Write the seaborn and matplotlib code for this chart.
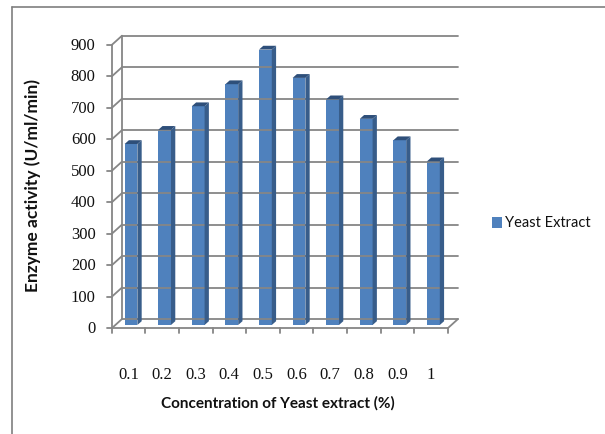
import numpy as np
import pandas as pd
import matplotlib
matplotlib.use("Agg")
import matplotlib.pyplot as plt
import seaborn as sns
from matplotlib.transforms import ScaledTranslation, IdentityTransform
from matplotlib.lines import Line2D
from matplotlib.patches import Polygon, Rectangle

# Data
concentrations = ["0.1", "0.2", "0.3", "0.4", "0.5", "0.6", "0.7", "0.8", "0.9", "1"]
activity = [575, 620, 695, 765, 875, 785, 717, 655, 587, 520]
y_ticks = [0, 100, 200, 300, 400, 500, 600, 700, 800, 900]
series_name = "Yeast Extract"
x_title = "Concentration of Yeast extract (%)"
y_title = "Enzyme activity (U/ml/min)"

df = pd.DataFrame({"conc": concentrations, "activity": activity})

sns.set_theme(style="white")
W, H, DPI = 605, 435, 100
fig = plt.figure(figsize=(W / DPI, H / DPI), dpi=DPI)
fig.patch.set_facecolor("white")

# front plane of the plot area, in pixels (from top-left)
x0_px, x1_px = 111.7, 447.7
y0_px, y900_px = 329.3, 46.0
ax = fig.add_axes([x0_px / W, 1 - y0_px / H, (x1_px - x0_px) / W, (y0_px - y900_px) / H])
ax.set_xlim(-0.5, 9.5)
ax.set_ylim(0, 900)
ax.axis("off")

grid_col = "#868686"
front_col = "#4F81BD"
side_col = "#385D8A"
top_col = "#2E4F7A"

back = (10.3, 9.3)    # back wall offset (px, up positive)
bar_off = (2.5, 3.3)  # bar front face offset
depth = (4.3, 3.8)    # bar depth

def disp(x, y, off=(0, 0)):
    px, py = ax.transData.transform((x, y))
    return px + off[0], py + off[1]

def seg(p, q, **kw):
    fig.add_artist(Line2D([p[0], q[0]], [p[1], q[1]], transform=IdentityTransform(), **kw))

lw = 1.3
# back wall gridlines and left wall diagonals
for v in y_ticks:
    seg(disp(-0.5, v, back), disp(9.5, v, back), color=grid_col, lw=lw, zorder=1)
    seg(disp(-0.5, v), disp(-0.5, v, back), color=grid_col, lw=lw, zorder=1)
    # tick marks on front value axis
    a = disp(-0.5, v)
    seg((a[0] - 5, a[1]), a, color=grid_col, lw=lw, zorder=1)
# back wall left edge
seg(disp(-0.5, 0, back), disp(-0.5, 900, back), color=grid_col, lw=lw, zorder=1)
# front value axis
seg(disp(-0.5, 0), disp(-0.5, 900), color=grid_col, lw=lw, zorder=1)
# floor front edge and right edge
seg(disp(-0.5, 0), disp(9.5, 0), color=grid_col, lw=lw, zorder=1)
seg(disp(9.5, 0), disp(9.5, 0, back), color=grid_col, lw=lw, zorder=1)
# category ticks
for k in range(11):
    a = disp(-0.5 + k, 0)
    seg(a, (a[0], a[1] - 5), color=grid_col, lw=lw, zorder=1)

# bars (front faces)
sns.barplot(data=df, x="conc", y="activity", order=concentrations, color=front_col,
            saturation=1, width=0.38, ax=ax, linewidth=0, zorder=3)
ax.set_xlim(-0.5, 9.5)
ax.set_ylim(0, 900)
ax.axis("off")

shift = ScaledTranslation(bar_off[0] / DPI, bar_off[1] / DPI, fig.dpi_scale_trans)
for p in ax.patches:
    p.set_transform(ax.transData + shift)
    p.set_clip_on(False)
    x, w, h = p.get_x(), p.get_width(), p.get_height()
    br = disp(x + w, 0, bar_off)
    tr = disp(x + w, h, bar_off)
    tl = disp(x, h, bar_off)
    d = depth
    side = [br, tr, (tr[0] + d[0], tr[1] + d[1]), (br[0] + d[0], br[1] + d[1])]
    top = [tl, tr, (tr[0] + d[0], tr[1] + d[1]), (tl[0] + d[0], tl[1] + d[1])]
    fig.add_artist(Polygon(side, closed=True, transform=IdentityTransform(),
                           facecolor=side_col, edgecolor="none", zorder=4))
    fig.add_artist(Polygon(top, closed=True, transform=IdentityTransform(),
                           facecolor=top_col, edgecolor="none", zorder=4))

# tick labels
serif = ["Liberation Serif", "DejaVu Serif"]
for v in y_ticks:
    a = disp(-0.5, v)
    fig.text((a[0] - 16) / W, a[1] / H, str(v), ha="right", va="center",
             fontsize=12, family=serif, color="#111111")
for i, c in enumerate(concentrations):
    a = disp(i, 0)
    fig.text(a[0] / W, 1 - 375 / H, c, ha="center", va="center",
             fontsize=12, family=serif, color="#111111")

# axis titles
sans = ["Lato", "DejaVu Sans"]
fig.text(278 / W, 1 - 403 / H, x_title, ha="center", va="center",
         fontsize=11, family=sans, fontweight="bold", color="#111111")
fig.text(33 / W, 1 - 185 / H, y_title, ha="center", va="center", rotation=90,
         fontsize=12.5, family=sans, fontweight="bold", color="#111111")

# legend
fig.add_artist(Rectangle((492, H - 229), 10, 11, transform=IdentityTransform(),
                         facecolor=front_col, edgecolor="none"))
fig.text(505 / W, 1 - 223 / H, series_name, ha="left", va="center",
         fontsize=10.5, family=sans, color="#111111")

# chart border (top and left edges)
seg((12, H - 8), (W, H - 8), color="#7f7f7f", lw=1.2, zorder=0)
seg((12, H - 8), (12, 0), color="#7f7f7f", lw=1.2, zorder=0)

fig.savefig("out.png", dpi=DPI, facecolor="white")
